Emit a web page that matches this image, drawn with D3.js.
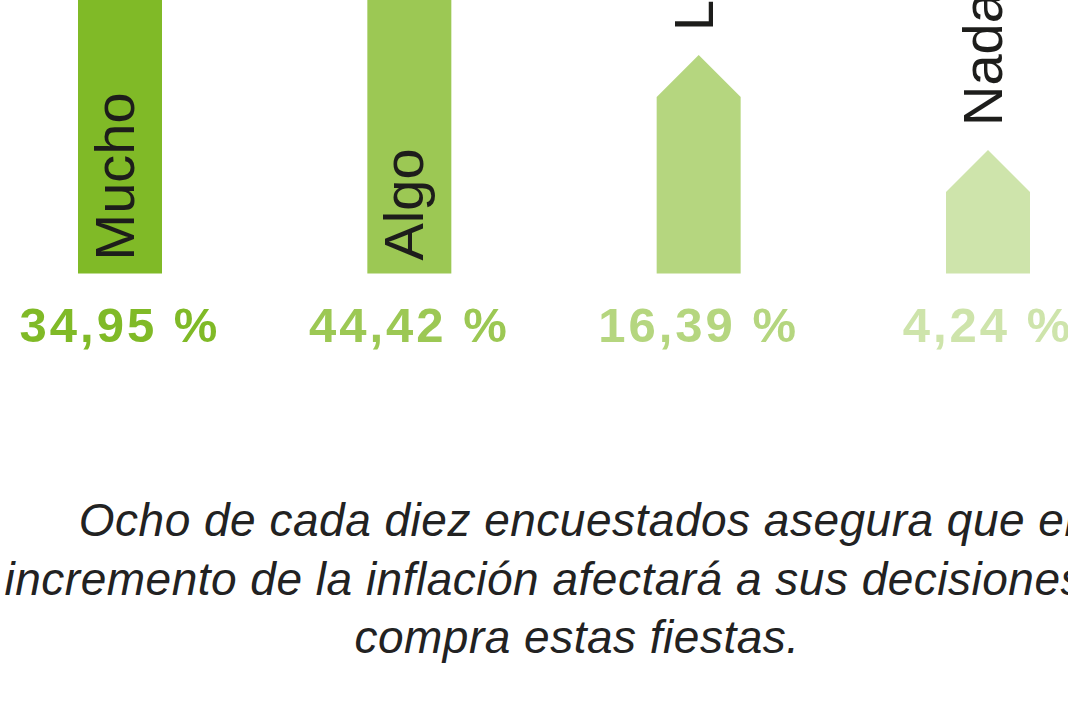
<!DOCTYPE html>
<html>
<head>
<meta charset="utf-8">
<script src="https://cdn.jsdelivr.net/npm/d3@7"></script>
<style>
  html, body { margin: 0; padding: 0; background: #ffffff; overflow: hidden; }
</style>
</head>
<body>
<svg id="chart" width="1068" height="720"></svg>
<script>
// Chart data
var categories = ["Mucho", "Algo", "Levemente", "Nada"];
var values = [34.95, 44.42, 16.39, 4.24];
var valueLabels = ["34,95 %", "44,42 %", "16,39 %", "4,24 %"];
var barColors = ["#80ba27", "#9cc854", "#b5d67f", "#cee4ab"];
var captionLines = [
    "Ocho de cada diez encuestados asegura que el",
    "incremento de la inflación afectará a sus decisiones de",
    "compra estas fiestas."
];

var barWidth = 84;
var baseY = 273.5;

// x-scale: one point per category
function getScaleX() {
    return d3.scalePoint()
        .domain(categories)
        .range([120, 988]);
}

// y-scale: top of the straight part of each bar (the roof sits above it)
function getScaleY() {
    return d3.scaleLinear()
        .domain([0, 40])
        .range([225.2, -87.6]);
}

function drawBars(svg) {
    var x = getScaleX();
    var y = getScaleY();
    var half = barWidth / 2;

    var rows = categories.map(function(c, i) {
        return { cat: c, value: values[i], label: valueLabels[i], color: barColors[i] };
    });

    // Bars with a pointed "house" roof
    svg.selectAll("path.bar")
        .data(rows)
        .enter()
        .append("path")
        .attr("class", "bar")
        .attr("fill", d => d.color)
        .attr("d", function(d) {
            var cx = x(d.cat);
            var top = y(d.value);
            var p = d3.path();
            p.moveTo(cx - half, baseY);
            p.lineTo(cx - half, top);
            p.lineTo(cx, top - half);
            p.lineTo(cx + half, top);
            p.lineTo(cx + half, baseY);
            p.closePath();
            return p.toString();
        });

    // Category labels, rotated; inside tall bars, above short ones
    svg.selectAll("text.cat")
        .data(rows)
        .enter()
        .append("text")
        .attr("class", "cat")
        .attr("transform", function(d) {
            var cx = x(d.cat) + 14;
            var startY = d.value > 20 ? baseY - 13 : y(d.value) - half - 24;
            return "translate(" + cx + "," + startY + ") rotate(-90)";
        })
        .attr("text-anchor", "start")
        .style("font-family", "'Liberation Sans', Arial, sans-serif")
        .style("font-size", "56px")
        .attr("fill", "#1d1d1b")
        .text(d => d.cat);

    // Percentage labels under the bars
    svg.selectAll("text.val")
        .data(rows)
        .enter()
        .append("text")
        .attr("class", "val")
        .attr("x", d => x(d.cat))
        .attr("y", 342)
        .attr("text-anchor", "middle")
        .style("font-family", "'Liberation Sans', Arial, sans-serif")
        .style("font-size", "49px")
        .style("font-weight", "bold")
        .style("letter-spacing", "3px")
        .attr("fill", d => d.color)
        .text(d => d.label);
}

function drawCaption(svg) {
    svg.append("text")
        .attr("text-anchor", "middle")
        .style("font-family", "'Liberation Sans', Arial, sans-serif")
        .style("font-size", "46px")
        .style("font-style", "italic")
        .style("letter-spacing", "0.5px")
        .attr("fill", "#222222")
        .selectAll("tspan")
        .data(captionLines)
        .enter()
        .append("tspan")
        .attr("x", 577)
        .attr("y", (d, i) => 536 + i * 58.5)
        .text(d => d);
}

function main() {
    var svg = d3.select("#chart");
    drawBars(svg);
    drawCaption(svg);
}

main();
</script>
</body>
</html>
